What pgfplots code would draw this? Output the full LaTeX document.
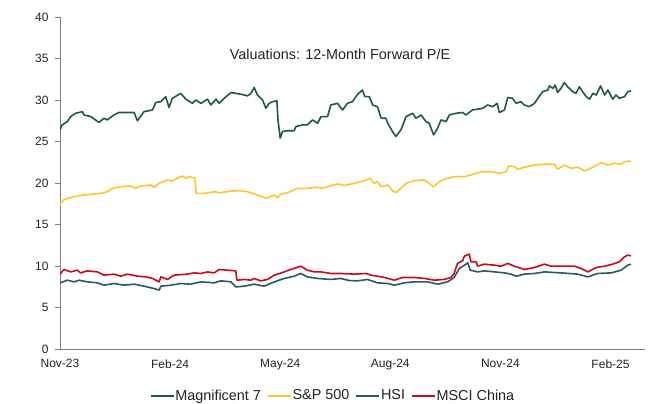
\documentclass[border=0pt]{standalone}
\usepackage{fontspec}
\setmainfont{Liberation Sans}
\usepackage{pgfplots}
\pgfplotsset{compat=1.18}
\definecolor{magc}{HTML}{1E5B3E}
\definecolor{spc}{HTML}{FFC42E}
\definecolor{hsic}{HTML}{2F5567}
\definecolor{mscic}{HTML}{CC0A16}
\definecolor{axgray}{HTML}{808080}
\definecolor{txt}{HTML}{222222}
\begin{document}
\begin{tikzpicture}
\path[use as bounding box] (-60pt,-55pt) rectangle (588pt,349pt);
\begin{axis}[
  scale only axis, width=585pt, height=332pt,
  xmin=0, xmax=15.94, ymin=0, ymax=40,
  axis x line*=bottom, axis y line*=left,
  axis line style={color=axgray, line width=0.8pt},
  xtick={0,3,6,9,12,15},
  xticklabels={Nov-23,Feb-24,May-24,Aug-24,Nov-24,Feb-25},
  ytick={0,5,...,40},
  tick align=outside, major tick length=5pt,
  major x tick style={draw=none},
  major y tick style={color=axgray, line width=0.8pt},
  /pgf/number format/assume math mode=true,
  ticklabel style={font=\fontsize{12}{14}\selectfont, text=txt},
  yticklabel style={xshift=-3pt},
  xticklabel style={yshift=-2pt},
  legend style={at={(axis description cs:0.4658,-0.1407)}, anchor=center,
    draw=none, fill=none, font=\fontsize{14.4}{16}\selectfont, text=txt,
    /tikz/every even column/.append style={column sep=5pt},
    nodes={inner xsep=1pt, inner ysep=1pt}},
  legend columns=4,
  legend image code/.code={\draw[#1] (0pt,0pt) -- (23pt,0pt);},
  every axis plot/.append style={line width=1.6pt, line join=round},
]
\addplot[magc] table {
0.00 26.4
0.06 27.0
0.20 27.4
0.29 28.0
0.43 28.4
0.61 28.6
0.65 28.2
0.84 28.0
1.06 27.3
1.20 27.8
1.29 27.6
1.47 28.2
1.61 28.5
2.02 28.5
2.11 27.5
2.29 28.6
2.52 28.8
2.61 29.7
2.75 29.8
2.88 30.4
2.97 29.1
3.06 30.2
3.29 30.8
3.43 30.1
3.61 29.6
3.70 30.0
3.84 29.6
4.02 30.1
4.11 29.4
4.25 30.1
4.34 29.6
4.47 30.2
4.66 30.9
4.93 30.7
5.11 30.5
5.20 30.8
5.29 31.5
5.38 30.6
5.52 30.0
5.61 29.0
5.70 29.6
5.79 29.8
5.91 29.9
5.94 27.6
6.00 25.4
6.06 26.2
6.20 26.3
6.38 26.3
6.43 26.8
6.61 27.0
6.74 27.0
6.88 27.6
7.02 27.2
7.11 28.0
7.29 28.0
7.38 29.4
7.56 29.6
7.70 28.8
7.83 29.6
7.97 29.8
8.11 30.7
8.24 31.2
8.31 30.4
8.43 30.4
8.52 29.4
8.65 29.2
8.75 27.8
8.88 27.8
8.93 27.2
9.06 26.2
9.15 25.6
9.29 26.4
9.43 28.0
9.61 28.4
9.70 27.8
9.84 28.2
9.97 27.4
10.06 27.2
10.18 25.8
10.29 26.6
10.38 27.6
10.52 27.4
10.61 28.2
10.79 28.4
10.97 28.5
11.06 28.2
11.24 28.8
11.38 28.9
11.52 29.0
11.65 29.4
11.79 29.2
11.91 29.6
11.97 28.5
12.11 28.8
12.20 30.3
12.33 30.2
12.43 29.6
12.56 29.8
12.65 29.4
12.79 29.2
12.93 29.6
13.02 30.2
13.15 31.0
13.29 31.2
13.34 31.7
13.43 31.4
13.49 31.8
13.56 30.9
13.65 31.4
13.74 32.1
13.83 31.6
13.97 31.0
14.06 30.8
14.15 31.6
14.24 31.0
14.34 30.4
14.43 30.1
14.52 30.8
14.61 30.6
14.73 31.7
14.84 30.6
14.93 31.2
15.06 30.1
15.15 30.6
15.24 30.2
15.38 30.4
15.47 31.0
15.56 31.1
};
\addlegendentry{Magnificent 7}
\addplot[spc] table {
0.00 17.35
0.03 17.6
0.11 18.0
0.38 18.35
0.65 18.55
0.93 18.67
1.11 18.75
1.29 18.95
1.43 19.36
1.66 19.55
1.93 19.64
2.06 19.36
2.20 19.64
2.47 19.76
2.56 19.48
2.70 19.96
2.93 20.36
3.06 20.24
3.20 20.57
3.34 20.85
3.43 20.57
3.52 20.76
3.67 20.64
3.71 18.75
3.93 18.75
4.20 18.95
4.38 18.83
4.66 19.03
4.93 19.07
5.11 18.95
5.29 18.67
5.47 18.43
5.61 18.15
5.84 18.55
5.93 18.23
6.02 18.67
6.20 18.83
6.47 19.36
6.74 19.36
7.02 19.48
7.15 19.36
7.38 19.67
7.56 19.88
7.74 19.7
8.02 19.96
8.29 20.28
8.45 20.57
8.56 19.96
8.65 20.16
8.75 19.55
8.93 19.76
9.06 19.07
9.15 18.83
9.29 19.36
9.43 19.96
9.65 20.28
9.93 20.36
10.06 19.96
10.18 19.55
10.34 20.16
10.47 20.45
10.74 20.76
11.02 20.76
11.20 20.97
11.47 21.36
11.75 21.36
11.97 21.17
12.15 21.36
12.23 22.05
12.38 21.97
12.47 21.65
12.65 21.9
12.93 22.17
13.20 22.26
13.47 22.26
13.56 21.65
13.74 22.17
13.93 21.77
14.11 21.9
14.29 21.45
14.52 21.9
14.75 22.45
14.93 22.17
15.11 22.38
15.29 22.26
15.38 22.57
15.56 22.65
};
\addlegendentry{S\&P 500}
\addplot[hsic] table {
0.00 7.97
0.20 8.29
0.38 8.09
0.52 8.29
0.74 8.09
1.02 7.97
1.20 7.69
1.47 7.89
1.75 7.69
2.02 7.81
2.29 7.57
2.56 7.29
2.70 7.09
2.75 7.57
3.02 7.69
3.29 7.89
3.56 7.81
3.84 8.09
4.20 7.97
4.38 8.21
4.66 8.09
4.79 7.48
5.02 7.57
5.29 7.81
5.56 7.57
5.84 8.09
6.11 8.5
6.38 8.77
6.56 9.1
6.74 8.69
7.02 8.5
7.38 8.38
7.65 8.5
7.88 8.25
8.11 8.21
8.38 8.38
8.65 7.97
8.93 7.89
9.11 7.69
9.38 7.97
9.65 8.09
10.02 8.09
10.29 7.81
10.56 8.09
10.74 8.62
10.88 9.7
11.02 10.1
11.11 10.38
11.18 9.5
11.38 9.29
11.56 9.41
11.84 9.29
12.11 9.17
12.29 9.02
12.43 8.77
12.65 9.02
12.93 9.1
13.20 9.29
13.65 9.17
14.11 9.02
14.38 8.69
14.65 9.1
15.02 9.17
15.29 9.5
15.47 10.1
15.56 10.22
};
\addlegendentry{HSI}
\addplot[mscic] table {
0.00 9.0
0.05 9.3
0.11 9.58
0.29 9.29
0.47 9.5
0.56 9.17
0.74 9.41
1.02 9.29
1.20 8.9
1.47 9.02
1.66 8.77
1.84 9.02
2.11 8.77
2.34 8.69
2.52 8.5
2.70 8.09
2.75 8.69
2.93 8.38
3.11 8.9
3.47 9.02
3.65 9.17
3.84 9.1
4.02 9.29
4.20 9.17
4.34 9.58
4.56 9.5
4.79 9.41
4.82 8.29
5.02 8.38
5.20 8.29
5.29 8.5
5.47 8.21
5.65 8.38
5.84 8.9
6.11 9.29
6.29 9.58
6.56 9.98
6.74 9.5
6.93 9.29
7.11 9.29
7.38 9.1
7.65 9.1
8.02 9.02
8.34 9.1
8.47 8.9
8.65 8.77
8.84 8.62
9.11 8.29
9.33 8.62
9.65 8.62
9.93 8.5
10.20 8.29
10.47 8.38
10.65 8.62
10.74 9.1
10.83 10.31
10.97 10.62
11.02 11.19
11.15 11.43
11.20 10.5
11.34 10.5
11.38 9.98
11.56 10.22
11.84 10.1
12.02 9.98
12.20 10.31
12.38 9.98
12.65 9.58
12.93 9.82
13.20 10.22
13.38 9.98
13.65 9.98
14.02 9.98
14.20 9.7
14.38 9.29
14.61 9.82
14.84 9.98
15.06 10.22
15.24 10.5
15.38 11.1
15.47 11.31
15.56 11.23
};
\addlegendentry{MSCI China}
\node[font=\fontsize{14.4}{16}\selectfont, text=txt] at (axis cs:7.63,35.45) {Valuations: 12-Month Forward P/E};
\end{axis}
\end{tikzpicture}
\end{document}
